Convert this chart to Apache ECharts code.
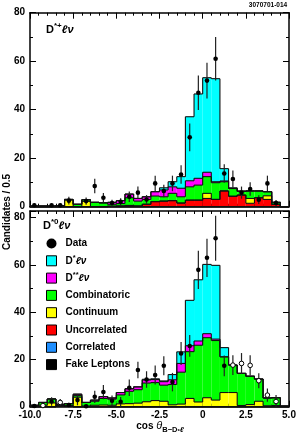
<!DOCTYPE html>
<html><head><meta charset="utf-8">
<script src="https://cdn.jsdelivr.net/npm/echarts@6/dist/echarts.min.js"></script>
<style>html,body{margin:0;padding:0;background:#fff}#c{width:302px;height:436px}</style>
</head><body><div id="c"></div>
<script>
// ---------------- data ----------------
const binEdges = [-10.0,-9.5,-9.0,-8.5,-8.0,-7.5,-7.0,-6.5,-6.0,-5.5,-5.0,-4.5,-4.0,-3.5,-3.0,-2.5,-2.0,-1.5,-1.0,-0.5,0.0,0.5,1.0,1.5,2.0,2.5,3.0,3.5,4.0,4.5,5.0];
const xTickLabels = {'-10':'-10.0','-7.5':'-7.5','-5':'-5.0','-2.5':'-2.5','0':'0','2.5':'2.5','5':'5.0'};
const yTickValues = [0,20,40,60,80];
const componentNames = ['Fake Leptons','Correlated','Uncorrelated','Continuum','Combinatoric','D**ℓν','D*ℓν'];

// top panel: D*+ l nu
const topFake         = [0,0,0,0,0,0,0,0,0,0,0,0,0,0,0,0,0,0,0,0,0,0,0,0,0,0,0,0,0,0];
const topCorrelated   = [0,0,0,0,0,0,0,0,0,0,0,0,0,0,0,0,0,0,0,0,0,0,0,0,0,0,0,0,0,0];
const topUncorrelated = [0,0,0,0,0,0,0,0,0,0.2,0.3,0.5,0.3,1.0,2.1,2.3,2.5,1.5,2.7,2.7,3.4,3.0,6.5,4.3,4.8,1.4,3.7,3.0,1.0,0];
const topContinuum    = [0,0,0,0,2.7,0,2.2,0,0,0,0,0,0,0,0,0,0,0,0,0,2.1,0,0,0,0,2.0,0,1.5,0,0];
const topCombinatoric = [0.3,0.3,0.3,0.4,0.3,1.0,0.7,1.8,1.6,0.8,1.0,3.2,2.0,2.0,2.3,1.8,3.0,2.6,5.5,6.2,6.9,6.9,3.8,3.2,1.6,3.1,2.8,1.7,0.8,0];
const topDss          = [0,0,0,0,0,0,0,0,0,0.8,1.2,1.5,1.1,1.1,1.8,2.8,2.7,3.5,2.5,2.8,1.8,0.4,0.3,0,0,0,0,0,0,0];
const topDs           = [0,0,0,0,0,0,0,0,0,0,0,0,0,0,0,0.9,2.1,4.8,26.4,34.8,39.0,42.5,5.1,0.3,0,0,0,0,0,0];
const topData         = [0.6,null,0.6,0.6,2.5,null,2.3,8.5,3.7,1.5,2.0,4.1,5.8,3.0,9.6,6.5,9.6,13.3,28.6,47.0,52.0,61.0,13.7,11.4,5.8,7.3,2.9,9.6,1.5,null];
const topErr          = [0.8,null,0.8,0.8,1.6,null,1.5,3.0,2.0,1.4,1.5,2.2,2.5,1.8,3.2,2.6,3.2,3.8,5.7,7.1,7.4,9.0,3.8,3.5,2.5,2.8,1.8,3.2,1.3,null];

// bottom panel: D*0 l nu
const botFake         = [0,0,0,0.6,0.3,0,0,0,0,0,0,0,0,0,0,0,0,0,0,0,0,0,0,0,0,0,0,0,0,0];
const botCorrelated   = [0,0,0,0,0,0,0,0,0,0,0,0,0,0,0,0,0,0,0,0,0,0,0,0,0,0,0,0,0,0];
const botUncorrelated = [0,0,0,0,0,0,0,0,0,0,0,0,0,0,0,0,0,0,0,0,0,0,0,0,0,0,0,0,0,0];
const botContinuum    = [0.2,0.6,1.6,0,0,4.0,0.3,0.6,0.7,0.6,1.2,1.3,1.5,2.1,2.6,2.3,0.8,1.1,3.5,2.0,3.8,2.8,6.0,6.0,0.5,0.9,2.3,0.4,0.5,0];
const botCombinatoric = [0.4,1.2,1.7,0.4,1.0,0.7,1.5,1.7,2.8,2.6,3.8,5.2,5.7,7.9,7.6,6.8,8.6,13.5,19.8,24.0,25.4,25.2,15.1,11.6,13.6,12.0,9.4,3.3,3.3,0.3];
const botDss          = [0,0,0,0,0,0.6,0,0.5,0.8,0.5,1.0,1.1,1.2,1.3,1.3,1.5,2.0,3.7,2.5,1.8,1.7,0.6,0,0,0,0,0,0,0,0];
const botDs           = [0,0,0,0,0,0,0,0,0,0,0,0,0,0.3,0.3,0.3,2.2,4.9,19.2,25.9,29.3,31.2,3.9,0,0,0,0,0,0,0];
const botData         = [0.3,null,2.2,null,0.7,2.8,0.2,4.2,6.2,2.5,2.1,8.0,15.5,11.5,13.4,17.3,10.4,22.5,25.7,57.9,63.0,71.3,17.3,null,null,null,null,null,null,null];
const botErr          = [0.6,null,1.8,null,1.0,2.2,0.6,2.6,3.0,2.2,2.0,3.5,3.5,3.5,4.0,4.0,3.9,4.9,4.6,8.1,8.1,9.5,4.4,null,null,null,null,null,null,null];
const botOpen         = [null,0.5,null,1.8,null,null,null,null,null,null,null,null,null,null,null,null,null,null,null,null,null,null,null,17.6,18.3,17.5,11.0,4.9,2.2,null];
const botOpenErr      = [null,0.8,null,1.5,null,null,null,null,null,null,null,null,null,null,null,null,null,null,null,null,null,null,null,4.2,4.4,4.3,3.2,2.8,2.8,null];

// ---------------- styling ----------------
const FONT = 'Liberation Sans, Arial, Helvetica, DejaVu Sans, sans-serif';
const compColors = ['#000000','#1f8fff','#ff0000','#ffff00','#00ff00','#ff00ff','#00ffff'];

const panels = [
  {comp:[topFake,topCorrelated,topUncorrelated,topContinuum,topCombinatoric,topDss,topDs], data:topData, err:topErr, open:null, openErr:null},
  {comp:[botFake,botCorrelated,botUncorrelated,botContinuum,botCombinatoric,botDss,botDs], data:botData, err:botErr, open:botOpen, openErr:botOpenErr}
];
const nb = binEdges.length - 1;

const series = [];
panels.forEach((p, pi) => {
  const cum = [];
  p.comp.forEach((arr, k) => {
    cum.push(arr.map((v, i) => v + (k > 0 ? cum[k-1][i] : 0)));
  });
  // fills
  p.comp.forEach((arr, k) => {
    const color = compColors[k];
    const items = [];
    for (let i = 0; i < nb; i++) {
      items.push([binEdges[i], binEdges[i+1], k > 0 ? cum[k-1][i] : 0, cum[k][i]]);
    }
    series.push({
      type:'custom', name: componentNames[k], xAxisIndex: pi*2, yAxisIndex: pi*2,
      itemStyle:{color: color}, silent:true, z:2,
      data: items,
      renderItem: (params, api) => {
        const lo = api.value(0), hi = api.value(1), b = api.value(2), t = api.value(3);
        if (!(t - b > 0)) return null;
        const a = api.coord([lo, t]), c = api.coord([hi, b]);
        return {type:'rect', shape:{x:a[0], y:a[1], width:c[0]-a[0], height:c[1]-a[1]}, style:{fill: color}};
      }
    });
  });
  // outlines of each cumulative histogram
  const oitems = [];
  for (let i = 0; i < nb; i++) oitems.push([binEdges[i], binEdges[i+1]]);
  series.push({
    type:'custom', name:'_outline'+pi, xAxisIndex: pi*2, yAxisIndex: pi*2, silent:true, z:3,
    data: oitems,
    renderItem: (params, api) => {
      const i = params.dataIndex;
      const lo = api.value(0), hi = api.value(1);
      const children = [];
      const st = {stroke:'#111', lineWidth:1.1, fill:null};
      for (let k = 0; k < cum.length; k++) {
        const v = cum[k][i];
        const prev = i > 0 ? cum[k][i-1] : 0;
        const a = api.coord([lo, v]), b = api.coord([hi, v]);
        children.push({type:'line', shape:{x1:a[0], y1:a[1], x2:b[0], y2:b[1]}, style:st});
        const c = api.coord([lo, prev]);
        children.push({type:'line', shape:{x1:a[0], y1:c[1], x2:a[0], y2:a[1]}, style:st});
        if (i === nb - 1) {
          const d = api.coord([hi, 0]);
          children.push({type:'line', shape:{x1:b[0], y1:b[1], x2:b[0], y2:d[1]}, style:st});
        }
      }
      return {type:'group', children};
    }
  });
  // data points
  const mk = (vals, errs, name, open) => {
    const items = [];
    for (let i = 0; i < nb; i++) {
      if (vals[i] == null) continue;
      items.push([(binEdges[i] + binEdges[i+1]) / 2, vals[i], errs[i]]);
    }
    series.push({
      type:'custom', name, xAxisIndex: pi*2, yAxisIndex: pi*2, silent:true, z:5,
      itemStyle:{color:'#000'},
      data: items,
      renderItem: (params, api) => {
        const x = api.value(0), y = api.value(1), e = api.value(2);
        const c = api.coord([x, y]);
        const top = api.coord([x, y + e]), bot = api.coord([x, Math.max(0, y - e)]);
        return {type:'group', children:[
          {type:'line', shape:{x1:c[0], y1:top[1], x2:c[0], y2:bot[1]}, style:{stroke:'#222', lineWidth:1.2}},
          {type:'circle', shape:{cx:c[0], cy:c[1], r:2.3}, style: open ? {fill:'#fff', stroke:'#000', lineWidth:1} : {fill:'#000'}}
        ]};
      }
    });
  };
  mk(p.data, p.err, 'Data', false);
  if (p.open) mk(p.open, p.openErr, 'Data (open)', true);
});

const axisLabelStyle = {fontSize:10, fontWeight:'bold', color:'#000', fontFamily:FONT};
function xAxes(gi, showLabels) {
  const base = {
    type:'value', gridIndex: gi, min:-10, max:5, interval:2.5,
    axisLine:{show:true, onZero:false, lineStyle:{color:'#000', width:1.5}},
    axisTick:{show:true, inside:true, length:6, lineStyle:{color:'#000', width:1}},
    minorTick:{show:true, splitNumber:5, length:3, lineStyle:{color:'#000', width:1}},
    splitLine:{show:false}, minorSplitLine:{show:false}
  };
  return [
    Object.assign({}, base, {position:'bottom', axisLabel: showLabels ? Object.assign({show:true, margin:4, formatter: v => xTickLabels[String(v)] || ''}, axisLabelStyle) : {show:false}}),
    Object.assign({}, base, {position:'top', axisLabel:{show:false}})
  ];
}
function yAxes(gi, ymax, showMax) {
  const base = {
    type:'value', gridIndex: gi, min:0, max:ymax, interval:20,
    axisLine:{show:true, onZero:false, lineStyle:{color:'#000', width:1.5}},
    axisTick:{show:true, inside:true, length:6, lineStyle:{color:'#000', width:1}},
    minorTick:{show:true, splitNumber:2, length:3, lineStyle:{color:'#000', width:1}},
    splitLine:{show:false}, minorSplitLine:{show:false}
  };
  return [
    Object.assign({}, base, {position:'left', axisLabel: Object.assign({show:true, margin:5, showMaxLabel:showMax, formatter: v => yTickValues.indexOf(v) >= 0 ? String(v) : ''}, axisLabelStyle)}),
    Object.assign({}, base, {position:'right', axisLabel:{show:false}})
  ];
}

const legendLabels = {
  'Data':'Data', 'D*ℓν':'{r|D}{sup|*}{it|ℓν}', 'D**ℓν':'{r|D}{sup|**}{it|ℓν}',
  'Combinatoric':'Combinatoric','Continuum':'Continuum','Uncorrelated':'Uncorrelated',
  'Correlated':'Correlated','Fake Leptons':'Fake Leptons'
};
const richTxt = {
  r:{fontSize:10, fontWeight:'bold', fontFamily:FONT, color:'#000', lineHeight:14, verticalAlign:'middle'},
  sup:{fontSize:7.5, fontWeight:'bold', fontFamily:FONT, color:'#000', lineHeight:8, verticalAlign:'top'},
  it:{fontSize:10, fontWeight:'bold', fontStyle:'italic', fontFamily:FONT, color:'#000', lineHeight:14, verticalAlign:'middle'}
};
const panelRich = {
  r:{fontSize:11, fontWeight:'bold', fontFamily:FONT, fill:'#000', lineHeight:15, verticalAlign:'middle'},
  sup:{fontSize:8, fontWeight:'bold', fontFamily:FONT, fill:'#000', lineHeight:8, verticalAlign:'top'},
  it:{fontSize:11, fontWeight:'bold', fontStyle:'italic', fontFamily:FONT, fill:'#000', lineHeight:15, verticalAlign:'middle'}
};

const chart = echarts.init(document.getElementById('c'), null, {renderer:'canvas'});
chart.setOption({
  animation:false,
  backgroundColor:'#fff',
  grid:[
    {left:30, right:13, top:12.7, height:194, containLabel:false, outerBoundsMode:'none'},
    {left:30, right:13, top:211, height:195.7, containLabel:false, outerBoundsMode:'none'}
  ],
  xAxis: [...xAxes(0, false), ...xAxes(1, true)],
  yAxis: [...yAxes(0, 80, true), ...yAxes(1, 82.8, false)],
  legend:{
    show:true, orient:'vertical', left:41, top:231.5, itemWidth:10, itemHeight:10, itemGap:3.3,
    selectedMode:false, itemStyle:{borderColor:'#000', borderWidth:1},
    textStyle:{fontSize:10, fontWeight:'bold', color:'#000', fontFamily:FONT, lineHeight:14, padding:[0,0,0,4], rich:richTxt},
    formatter: n => legendLabels[n] || n,
    data:[
      {name:'Data', icon:'circle', itemStyle:{borderWidth:0}},
      {name:'D*ℓν', icon:'rect'}, {name:'D**ℓν', icon:'rect'}, {name:'Combinatoric', icon:'rect'},
      {name:'Continuum', icon:'rect'}, {name:'Uncorrelated', icon:'rect'}, {name:'Correlated', icon:'rect'},
      {name:'Fake Leptons', icon:'rect'}
    ]
  },
  graphic:[
    {type:'text', x:268, y:5, style:{text:'3070701-014', fontSize:6.5, fontWeight:'bold', fontFamily:FONT, fill:'#000', align:'center', verticalAlign:'middle'}},
    {type:'text', x:46, y:22, style:{text:'{r|D}{sup|*+}{it|ℓν}', rich:panelRich}},
    {type:'text', x:43, y:218, style:{text:'{r|D}{sup|*0}{it|ℓν}', rich:panelRich}},
    {type:'text', x:7, y:212, rotation:Math.PI/2, style:{text:'Candidates / 0.5', fontSize:10, fontWeight:'bold', fontFamily:FONT, fill:'#000', align:'center', verticalAlign:'middle'}},
    {type:'text', x:160, y:426, style:{text:'{n|cos }{th|θ}{sub|B−D}{ss|*}{sit|ℓ}', align:'center', verticalAlign:'middle', rich:{
      n:{fontSize:10, fontWeight:'bold', fontFamily:FONT, fill:'#000', lineHeight:16, verticalAlign:'middle'},
      th:{fontSize:11, fontStyle:'italic', fontFamily:FONT, fill:'#000', lineHeight:16, verticalAlign:'middle'},
      sub:{fontSize:7.5, fontWeight:'bold', fontFamily:FONT, fill:'#000', lineHeight:8, verticalAlign:'bottom'},
      ss:{fontSize:6, fontWeight:'bold', fontFamily:FONT, fill:'#000', lineHeight:14, verticalAlign:'bottom'},
      sit:{fontSize:7.5, fontWeight:'bold', fontStyle:'italic', fontFamily:FONT, fill:'#000', lineHeight:8, verticalAlign:'bottom'}}}}
  ],
  series
});
</script>
</body></html>
